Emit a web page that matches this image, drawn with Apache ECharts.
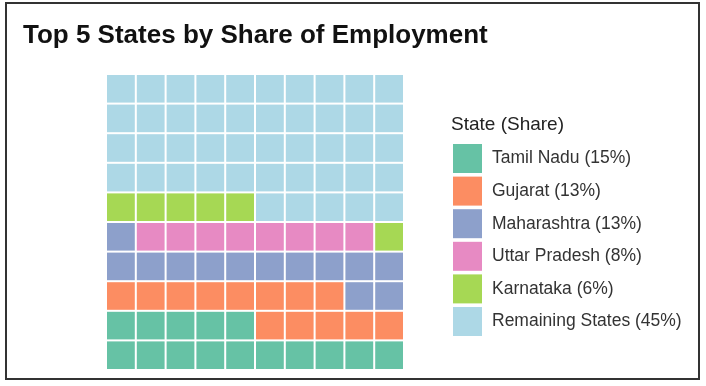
<!DOCTYPE html>
<html>
<head>
<meta charset="utf-8">
<script src="https://cdn.jsdelivr.net/npm/echarts@6/dist/echarts.min.js"></script>
<style>
html,body{margin:0;padding:0;background:#fff;}
#frame{position:absolute;left:5px;top:2px;width:691px;height:374px;border:2px solid #333;box-sizing:content-box;}
#chart{position:absolute;left:0;top:0;width:706px;height:386px;}
</style>
</head>
<body>
<div id="frame"></div>
<div id="chart"></div>
<script>
// Data
const states = ['Tamil Nadu', 'Gujarat', 'Maharashtra', 'Uttar Pradesh', 'Karnataka', 'Remaining States'];
const shares = [15, 13, 13, 8, 6, 45];           // percent = number of tiles out of 100
const colors = ['#66C2A5', '#FC8D62', '#8DA0CB', '#E78AC3', '#A6D854', '#ADD8E6'];
const gridCols = 10;
const gridRows = 10;
const chartTitle = 'Top 5 States by Share of Employment';
const legendTitle = 'State (Share)';

// Assign tiles: fill rows bottom to top, left to right
const cellsPerState = [];
let idx = 0;
shares.forEach((n) => {
  const cells = [];
  for (let k = 0; k < n; k++) {
    const col = idx % gridCols;
    const row = Math.floor(idx / gridCols);
    cells.push([col, row]);
    idx++;
  }
  cellsPerState.push(cells);
});

const chart = echarts.init(document.getElementById('chart'), null, {renderer: 'canvas'});

function renderTile(params, api) {
  const c = api.value(0), r = api.value(1);
  const p0 = api.coord([c, r + 1]);
  const p1 = api.coord([c + 1, r]);
  const inset = 1;
  return {
    type: 'rect',
    shape: {x: p0[0] + inset, y: p0[1] + inset, width: p1[0] - p0[0] - 2 * inset, height: p1[1] - p0[1] - 2 * inset},
    style: {fill: api.visual('color')}
  };
}

const series = states.map((s, i) => ({
  name: s + ' (' + shares[i] + '%)',
  type: 'custom',
  renderItem: renderTile,
  itemStyle: {color: colors[i]},
  data: cellsPerState[i],
  encode: {x: 0, y: 1},
  silent: true,
  animation: false
}));

chart.setOption({
  animation: false,
  backgroundColor: 'transparent',
  title: [
    {text: chartTitle, left: 18, top: 18, padding: 5,
     textStyle: {fontFamily: 'Liberation Sans, Arial, sans-serif', fontWeight: 'bold', fontSize: 26, color: '#111'}},
    {text: legendTitle, left: 446, top: 110, padding: 5,
     textStyle: {fontFamily: 'Liberation Sans, Arial, sans-serif', fontWeight: 'normal', fontSize: 19, color: '#222'}}
  ],
  grid: {left: 106, top: 74, width: 298, height: 296},
  xAxis: {type: 'value', min: 0, max: gridCols, show: false},
  yAxis: {type: 'value', min: 0, max: gridRows, show: false},
  legend: {
    orient: 'vertical',
    left: 453,
    top: 144,
    padding: 0,
    itemWidth: 29,
    itemHeight: 29,
    itemGap: 3.6,
    icon: 'rect',
    selectedMode: false,
    textStyle: {fontFamily: 'Liberation Sans, Arial, sans-serif', fontSize: 17.5, color: '#333', padding: [0, 0, 0, 5]},
    data: series.map(s => s.name)
  },
  series: series
});
</script>
</body>
</html>
